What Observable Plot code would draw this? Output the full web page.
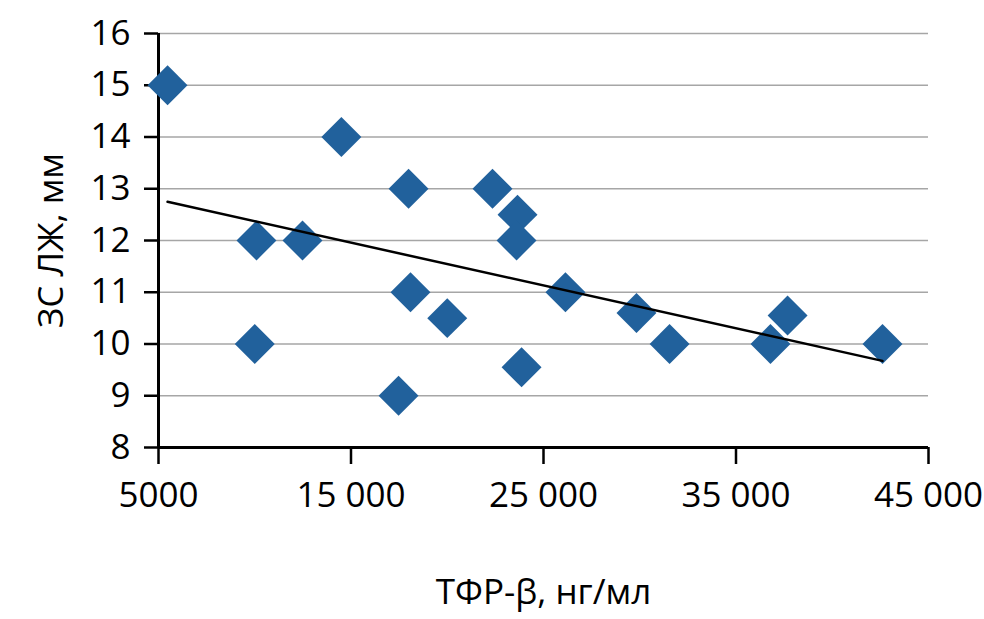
<!DOCTYPE html>
<html><head><meta charset="utf-8">
<script src="https://cdn.jsdelivr.net/npm/d3@7"></script>
<script src="https://cdn.jsdelivr.net/npm/@observablehq/plot@0.6"></script>
<style>body{margin:0;background:#fff} svg{display:block}</style>
</head><body><div id="chart"></div>
<script>
const tfr = [5470, 14500, 10090, 12480, 10000, 17990, 18090, 17470, 20000, 22350, 23650, 23600, 23860, 26140, 29830, 31550, 36790, 37680, 42610];
const zs  = [15, 14, 12, 12, 10, 13, 11, 9, 10.5, 13, 12.5, 12, 9.55, 11, 10.6, 10, 10, 10.55, 10];
const xTicks = [5000, 15000, 25000, 35000, 45000];
const yTicks = [8, 9, 10, 11, 12, 13, 14, 15, 16];
const xLabel = "ТФР-β, нг/мл";
const yLabel = "ЗС ЛЖ, мм";

const data = tfr.map((x, i) => ({x, y: zs[i]}));
const fmt = d => d < 10000 ? String(d) : d3.format(",")(d).replace(/,/g, " ");

const chart = Plot.plot({
  width: 984, height: 619,
  marginLeft: 158, marginRight: 56, marginTop: 33, marginBottom: 172,
  style: {fontFamily: "Open Sans", fontSize: "35px", color: "#000", background: "#fff"},
  x: {domain: [5000, 45000]},
  y: {domain: [8, 16]},
  marks: [
    Plot.gridY(yTicks.slice(1), {stroke: "#a6a6a6", strokeOpacity: 1, strokeWidth: 1.5}),
    Plot.ruleY([8], {stroke: "#000", strokeWidth: 3}),
    Plot.ruleX([5000], {stroke: "#000", strokeWidth: 3}),
    Plot.axisY({ticks: yTicks, tickSize: 14, tickPadding: 14, stroke: "#000", strokeWidth: 2.5,
      label: yLabel, labelAnchor: "center", labelArrow: "none", labelOffset: 120}),
    Plot.axisX({ticks: xTicks, tickSize: 17, tickPadding: 18, stroke: "#000", strokeWidth: 2.5, tickFormat: fmt,
      label: xLabel, labelAnchor: "center", labelArrow: "none", labelOffset: 156}),
    Plot.dot(data, {x: "x", y: "y", symbol: "diamond2", r: 18, fill: "#21619c"}),
    Plot.linearRegressionY(data, {x: "x", y: "y", ci: 0, stroke: "#000", strokeWidth: 2.5})
  ]
});
document.getElementById("chart").append(chart);
</script>
</body></html>
